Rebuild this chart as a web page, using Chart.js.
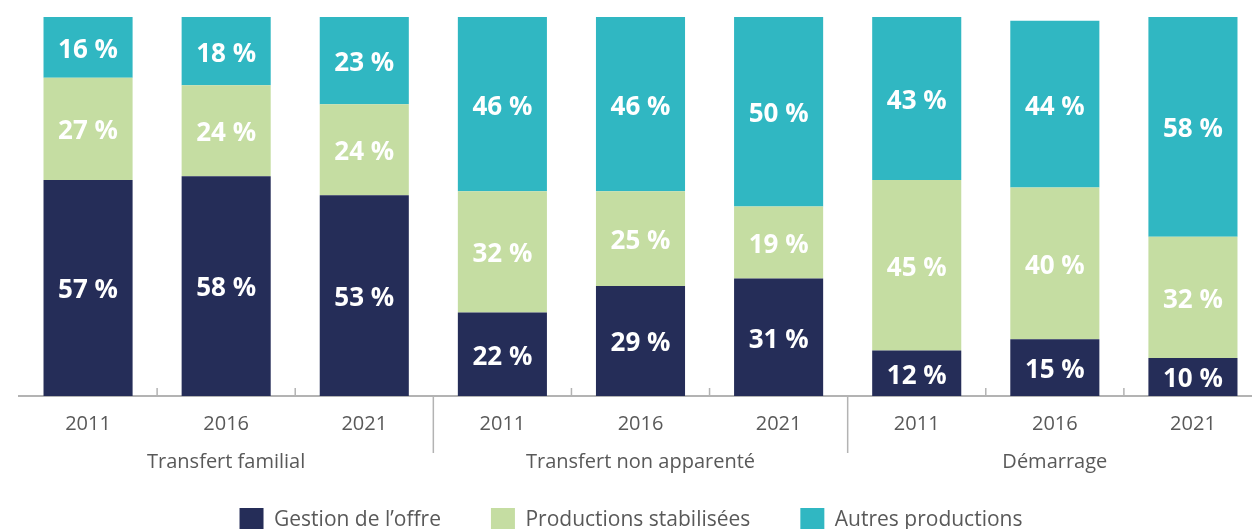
<!DOCTYPE html>
<html lang="fr">
	<head>
		<meta charset="UTF-8" />
		<title>Répartition des productions</title>
		<script src="https://cdn.jsdelivr.net/npm/chart.js@4.4.3/dist/chart.umd.min.js"></script>
		<style>
			html,
			body {
				margin: 0;
				padding: 0;
				overflow: hidden;
				background: #fff;
			}
			.chartContainer {
				position: relative;
				width: 1262px;
				height: 542px;
			}
		</style>
	</head>
	<body>
		<div class="chartContainer">
			<canvas id="productionChart"></canvas>
		</div>

		<script>
			// values, in %
			const years = ["2011", "2016", "2021", "2011", "2016", "2021", "2011", "2016", "2021"];
			const groups = ["Transfert familial", "Transfert non apparenté", "Démarrage"];
			const gestionOffre = [57, 58, 53, 22, 29, 31, 12, 15, 10];
			const productionsStabilisees = [27, 24, 24, 32, 25, 19, 45, 40, 32];
			const autresProductions = [16, 18, 23, 46, 46, 50, 43, 44, 58];

			const axisColor = "#b3b3b3";
			const textColor = "#595959";

			// draws the white % labels centered in each segment
			const segmentLabels = {
				id: "segmentLabels",
				afterDatasetsDraw(chart) {
					const ctx = chart.ctx;
					ctx.save();
					ctx.fillStyle = "#ffffff";
					ctx.font = "bold 26px 'Open Sans', sans-serif";
					ctx.textAlign = "center";
					ctx.textBaseline = "middle";
					chart.data.datasets.forEach((ds, di) => {
						const meta = chart.getDatasetMeta(di);
						meta.data.forEach((bar, i) => {
							const y = (bar.y + bar.base) / 2 + 3;
							ctx.fillText(ds.data[i] + " %", bar.x, y);
						});
					});
					ctx.restore();
				},
			};

			// small ticks between years, long separators and names for the groups
			const groupAxis = {
				id: "groupAxis",
				afterDraw(chart) {
					const ctx = chart.ctx;
					const x = chart.scales.x;
					const axisY = chart.chartArea.bottom;
					ctx.save();
					ctx.strokeStyle = axisColor;
					ctx.lineWidth = 1.5;
					for (let i = 0; i < years.length - 1; i++) {
						const px = (x.getPixelForValue(i) + x.getPixelForValue(i + 1)) / 2;
						ctx.beginPath();
						if ((i + 1) % 3 === 0) {
							ctx.moveTo(px, axisY);
							ctx.lineTo(px, axisY + 57);
						} else {
							ctx.moveTo(px, axisY - 8);
							ctx.lineTo(px, axisY);
						}
						ctx.stroke();
					}
					ctx.fillStyle = textColor;
					ctx.font = "20px 'Open Sans', sans-serif";
					ctx.textAlign = "center";
					ctx.textBaseline = "middle";
					groups.forEach((g, gi) => {
						ctx.fillText(g, x.getPixelForValue(gi * 3 + 1), axisY + 66);
					});
					ctx.restore();
				},
			};

			Chart.defaults.font.family = "'Open Sans', sans-serif";
			Chart.defaults.color = textColor;

			const ctx = document.getElementById("productionChart").getContext("2d");
			const productionChart = new Chart(ctx, {
				type: "bar",
				data: {
					labels: years,
					datasets: [
						{
							label: "Gestion de l’offre",
							data: gestionOffre,
							backgroundColor: "#252d58",
						},
						{
							label: "Productions stabilisées",
							data: productionsStabilisees,
							backgroundColor: "#c5dda2",
						},
						{
							label: "Autres productions",
							data: autresProductions,
							backgroundColor: "#30b7c2",
						},
					],
				},
				options: {
					responsive: true,
					maintainAspectRatio: false,
					animation: false,
					layout: {
						padding: { top: 17, left: 0, right: 0, bottom: 0 },
					},
					datasets: {
						bar: {
							borderWidth: 0,
							categoryPercentage: 1,
							barPercentage: 0.645,
						},
					},
					scales: {
						x: {
							stacked: true,
							grid: { display: false, drawTicks: false },
							border: { display: true, color: axisColor, width: 2 },
							ticks: {
								padding: 8,
								autoSkip: false,
								maxRotation: 0,
								minRotation: 0,
								font: { size: 20, lineHeight: 2.05 },
								color: textColor,
							},
							afterFit(scale) {
								scale.height = 62;
							},
						},
						y: {
							stacked: true,
							min: 0,
							max: 100,
							grid: { display: false },
							border: { display: false },
							ticks: { display: false },
							// empty strip on the left of the bars
							afterFit(scale) {
								scale.width = 19;
							},
						},
					},
					plugins: {
						legend: {
							position: "bottom",
							labels: {
								boxWidth: 24,
								boxHeight: 24,
								padding: 50,
								font: { size: 21 },
								color: textColor,
							},
						},
						tooltip: { enabled: false },
					},
				},
				plugins: [segmentLabels, groupAxis],
			});
		</script>
	</body>
</html>
